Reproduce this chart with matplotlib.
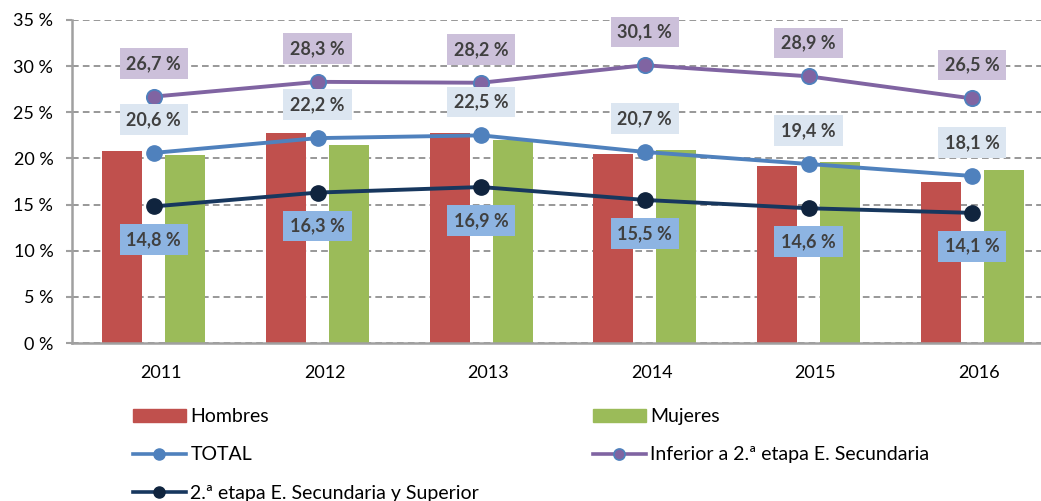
import numpy as np
import matplotlib
matplotlib.use('Agg')
import matplotlib.pyplot as plt
import matplotlib.transforms as mtransforms
from matplotlib.patches import Patch
from matplotlib.lines import Line2D

plt.rcParams['font.family'] = ['Lato', 'DejaVu Sans']

# data
years = ['2011', '2012', '2013', '2014', '2015', '2016']
hombres = [20.8, 22.8, 22.8, 20.5, 19.2, 17.4]
mujeres = [20.4, 21.5, 22.0, 20.9, 19.6, 18.7]
total = [20.6, 22.2, 22.5, 20.7, 19.4, 18.1]
inferior = [26.7, 28.3, 28.2, 30.1, 28.9, 26.5]
superior = [14.8, 16.3, 16.9, 15.5, 14.6, 14.1]
yticks = [0, 5, 10, 15, 20, 25, 30, 35]

red = '#C0504D'
green = '#9BBB59'
blue = '#4F81BD'
purple = '#8064A2'
navy = '#17375E'
navy_dot = '#10243E'
txt = '#404040'
grey = '#A0A0A0'

fig = plt.figure(figsize=(10.41, 5.01), dpi=100)
# axes run past the right edge of the picture, as in the original crop
ax = fig.add_axes([72 / 1041, 158 / 501, 982 / 1041, 323 / 501])

x = np.arange(len(years))
w = 0.245
ax.bar(x - 0.192, hombres, w, color=red, zorder=2)
ax.bar(x + 0.192, mujeres, w, color=green, zorder=2)

ax.plot(x, total, color=blue, lw=2.8, marker='o', ms=11, mfc=blue, mec=blue, zorder=3)
ax.plot(x, inferior, color=purple, lw=2.8, marker='o', ms=11, mfc=purple, mec=blue, mew=1.3, zorder=3)
ax.plot(x, superior, color=navy, lw=2.8, marker='o', ms=11, mfc=navy_dot, mec=navy_dot, zorder=3)


def fmt(v):
    return ('%.1f %%' % v).replace('.', ',')


def labels(vals, dy, face):
    for xi, v in zip(x, vals):
        ax.annotate(fmt(v), (xi, v), xytext=(0, dy), textcoords='offset points',
                    ha='center', va='center', fontsize=13, fontweight='bold', color=txt,
                    bbox=dict(boxstyle='square,pad=0.38', fc=face, ec='none'), zorder=5)


labels(inferior, 24, '#CCC0DA')
labels(total, 24, '#DCE6F1')
labels(superior, -24, '#8DB4E2')

ax.set_xlim(-0.5, 5.5)
ax.set_ylim(0, 35)
ax.set_yticks(yticks)
ax.set_yticklabels(['%d %%' % t for t in yticks])
ax.set_xticks(x)
ax.set_xticklabels(years)
ax.yaxis.grid(True, color='#868686', ls=(0, (4, 2.5)), lw=1.2, zorder=1)
ax.set_axisbelow(True)
for s in ['top', 'right']:
    ax.spines[s].set_visible(False)
for s in ['left', 'bottom']:
    ax.spines[s].set_color(grey)
    ax.spines[s].set_linewidth(1.8)
ax.tick_params(axis='y', length=4.5, width=1.5, color=grey, pad=9, labelsize=13, labelcolor='black')
ax.tick_params(axis='x', length=0, pad=16, labelsize=13, labelcolor='black')
shift = mtransforms.ScaledTranslation(7 / 100, 0, fig.dpi_scale_trans)
for lab in ax.get_xticklabels():
    lab.set_transform(lab.get_transform() + shift)

# legend in two columns, placed like the original
col1 = [Patch(color=red),
        Line2D([], [], color=blue, lw=2.6, marker='o', ms=8, mfc=blue, mec=blue),
        Line2D([], [], color=navy, lw=2.6, marker='o', ms=8, mfc=navy_dot, mec=navy_dot)]
col2 = [Patch(color=green),
        Line2D([], [], color=purple, lw=2.6, marker='o', ms=8, mfc=purple, mec=blue, mew=1.2)]
kw = dict(loc='upper left', frameon=False, fontsize=14, handlelength=2.7, handleheight=0.65,
          handletextpad=0.25, labelspacing=1.1, borderpad=0, borderaxespad=0)
fig.legend(col1, ['Hombres', 'TOTAL', '2.ª etapa E. Secundaria y Superior'],
           bbox_to_anchor=(133 / 1041, 1 - 408 / 501), **kw)
fig.legend(col2, ['Mujeres', 'Inferior a 2.ª etapa E. Secundaria'],
           bbox_to_anchor=(593 / 1041, 1 - 408 / 501), **kw)

fig.savefig('out.png', dpi=100)
